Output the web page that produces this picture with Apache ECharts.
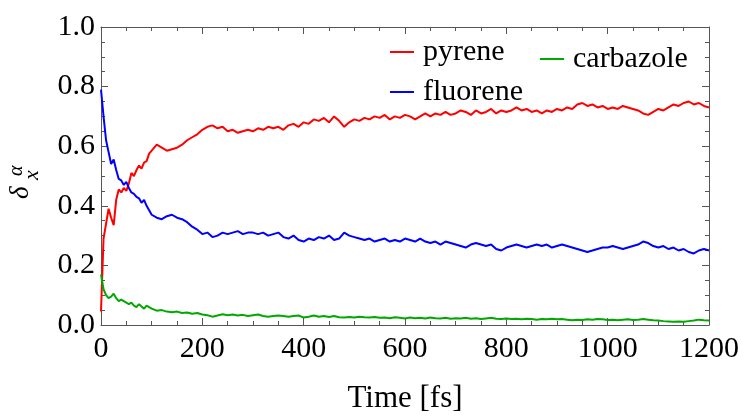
<!DOCTYPE html>
<html>
<head>
<meta charset="utf-8">
<script src="https://cdn.jsdelivr.net/npm/echarts@6/dist/echarts.min.js"></script>
<style>html,body{margin:0;padding:0;background:#fff;}#c{width:748px;height:419px;}</style>
</head>
<body>
<div id="c"></div>
<script>
// Time samples [fs]
var times = [0,5,10,15,20,25,30,35,40,45,50,55,60,65,70,75,80,85,90,95,100,
110,120,130,140,150,160,170,180,190,200,210,220,230,240,250,260,270,280,290,300,
310,320,330,340,350,360,370,380,390,400,410,420,430,440,450,460,470,480,490,500,
510,520,530,540,550,560,570,580,590,600,610,620,630,640,650,660,670,680,690,700,
710,720,730,740,750,760,770,780,790,800,810,820,830,840,850,860,870,880,890,900,
910,920,930,940,950,960,970,980,990,1000,1010,1020,1030,1040,1050,1060,1070,1080,1090,1100,
1110,1120,1130,1140,1150,1160,1170,1180,1190,1200];

var pyrene = [0.045,0.29,0.34,0.39,0.36,0.335,0.42,0.455,0.445,0.46,0.45,0.475,0.51,0.50,0.52,0.535,0.525,0.545,0.55,0.575,0.585,
0.605,0.595,0.585,0.59,0.595,0.605,0.62,0.63,0.64,0.655,0.665,0.67,0.66,0.665,0.65,0.655,0.645,0.65,0.655,0.65,
0.66,0.655,0.665,0.66,0.665,0.655,0.67,0.675,0.665,0.68,0.675,0.69,0.685,0.695,0.68,0.70,0.685,0.665,0.68,0.69,
0.685,0.695,0.69,0.70,0.695,0.705,0.69,0.70,0.695,0.705,0.70,0.69,0.70,0.71,0.70,0.71,0.705,0.715,0.705,0.71,
0.72,0.715,0.705,0.72,0.71,0.715,0.725,0.71,0.72,0.715,0.72,0.73,0.72,0.725,0.715,0.72,0.71,0.72,0.715,0.725,
0.72,0.73,0.725,0.74,0.745,0.735,0.74,0.73,0.735,0.725,0.73,0.725,0.735,0.73,0.725,0.72,0.71,0.705,0.715,0.725,
0.72,0.73,0.74,0.735,0.745,0.75,0.74,0.745,0.735,0.73];

var fluorene = [0.79,0.70,0.62,0.58,0.54,0.555,0.52,0.49,0.485,0.47,0.48,0.46,0.445,0.44,0.43,0.425,0.41,0.42,0.40,0.385,0.37,
0.36,0.355,0.365,0.37,0.36,0.355,0.345,0.33,0.32,0.305,0.31,0.295,0.30,0.31,0.305,0.31,0.315,0.305,0.31,0.31,
0.305,0.31,0.30,0.305,0.31,0.295,0.29,0.30,0.285,0.28,0.29,0.285,0.295,0.29,0.30,0.285,0.29,0.31,0.30,0.295,
0.29,0.285,0.29,0.28,0.285,0.29,0.28,0.285,0.28,0.29,0.285,0.28,0.29,0.28,0.275,0.28,0.27,0.28,0.275,0.27,
0.265,0.26,0.27,0.275,0.27,0.265,0.27,0.255,0.25,0.26,0.265,0.27,0.265,0.26,0.265,0.27,0.265,0.27,0.26,0.265,
0.27,0.265,0.26,0.255,0.25,0.245,0.25,0.255,0.26,0.26,0.265,0.26,0.255,0.26,0.265,0.27,0.28,0.275,0.265,0.26,
0.265,0.255,0.26,0.25,0.255,0.245,0.24,0.25,0.255,0.25];

var carbazole = [0.17,0.12,0.10,0.09,0.095,0.105,0.09,0.08,0.085,0.08,0.075,0.07,0.075,0.065,0.06,0.07,0.062,0.055,0.065,0.06,0.055,
0.048,0.05,0.045,0.043,0.045,0.04,0.042,0.038,0.04,0.035,0.033,0.028,0.032,0.036,0.033,0.035,0.032,0.034,0.03,0.033,
0.035,0.03,0.028,0.03,0.032,0.03,0.028,0.03,0.032,0.025,0.028,0.032,0.028,0.03,0.027,0.03,0.026,0.025,0.027,0.025,
0.028,0.026,0.025,0.027,0.024,0.025,0.023,0.026,0.024,0.022,0.025,0.023,0.024,0.022,0.025,0.023,0.022,0.024,0.021,0.023,
0.022,0.024,0.021,0.023,0.02,0.022,0.024,0.021,0.02,0.022,0.02,0.021,0.019,0.021,0.02,0.018,0.02,0.019,0.021,0.019,
0.02,0.018,0.016,0.018,0.017,0.019,0.018,0.02,0.019,0.017,0.018,0.016,0.018,0.019,0.017,0.018,0.02,0.018,0.016,0.015,
0.013,0.012,0.011,0.012,0.011,0.013,0.015,0.018,0.016,0.015];

var seriesNames = ['pyrene','fluorene','carbazole'];
var seriesColors = ['#ff0000','#0000ff','#00a800'];
var xTicks = {min:0, max:1200, interval:200};
var yTicks = {min:0, max:1, interval:0.2};

function pairs(vals){ return times.map(function(t,i){ return [t, vals[i]]; }); }

var font = 'Liberation Serif';
var axisCol = '#555';
function mkAxis(base, show, pos){
  return Object.assign({
    type:'value', position:pos,
    axisLine:{show:true, onZero:false, lineStyle:{color:axisCol, width:1}},
    axisTick:{show:true, inside:true, length:7, lineStyle:{color:axisCol, width:1}},
    minorTick:{show:true, splitNumber:4, length:4, lineStyle:{color:axisCol, width:1}},
    splitLine:{show:false},
    minorSplitLine:{show:false},
    axisLabel:{show:show, fontFamily:font, fontSize:30, color:'#000'}
  }, base);
}

var chart = echarts.init(document.getElementById('c'), null, {renderer:'canvas'});
var xb = mkAxis({min:xTicks.min, max:xTicks.max, interval:xTicks.interval}, true, 'bottom');
xb.axisLabel.margin = 9;
xb.axisLabel.formatter = function(v){ return String(v); };
xb.name = 'Time [fs]'; xb.nameLocation = 'middle'; xb.nameGap = 58;
xb.nameTextStyle = {fontFamily:font, fontSize:31, color:'#000'};
var xt = mkAxis({min:xTicks.min, max:xTicks.max, interval:xTicks.interval}, false, 'top');
var yl = mkAxis({min:yTicks.min, max:yTicks.max, interval:yTicks.interval}, true, 'left');
yl.axisLabel.margin = 6;
yl.axisLabel.formatter = function(v){ return v.toFixed(1); };
var yr = mkAxis({min:yTicks.min, max:yTicks.max, interval:yTicks.interval}, false, 'right');

var data = [pyrene, fluorene, carbazole];
var legendPos = [{left:390, top:37},{left:390, top:77},{left:540, top:44}];

chart.setOption({
  animation:false,
  backgroundColor:'#fff',
  textStyle:{fontFamily:font},
  grid:{left:101, right:39, top:27, bottom:87, containLabel:false},
  xAxis:[xb, xt],
  yAxis:[yl, yr],
  legend: seriesNames.map(function(n,i){
    return {data:[n], left:legendPos[i].left, top:legendPos[i].top, padding:0, orient:'vertical',
      icon:'rect', itemWidth:24, itemHeight:2,
      textStyle:{fontFamily:font, fontSize:30, color:'#000', padding:[0,0,0,4]}};
  }),
  series: seriesNames.map(function(n,i){
    return {name:n, type:'line', xAxisIndex:0, yAxisIndex:0, showSymbol:false, symbol:'none',
      lineStyle:{width:2, color:seriesColors[i]}, itemStyle:{color:seriesColors[i]},
      data:pairs(data[i])};
  }),
  graphic:[{
    type:'group', x:34, y:199, rotation:Math.PI/2,
    children:[
      {type:'text', x:0, y:0, style:{text:'δ', fontFamily:font, fontStyle:'italic', fontSize:27, fill:'#000', verticalAlign:'bottom'}},
      {type:'text', x:19, y:9, style:{text:'x', fontFamily:font, fontStyle:'italic', fontSize:22, fill:'#000', verticalAlign:'bottom'}},
      {type:'text', x:23, y:-7, style:{text:'α', fontFamily:font, fontStyle:'italic', fontSize:20, fill:'#000', verticalAlign:'bottom'}}
    ]
  }]
});
</script>
</body>
</html>
